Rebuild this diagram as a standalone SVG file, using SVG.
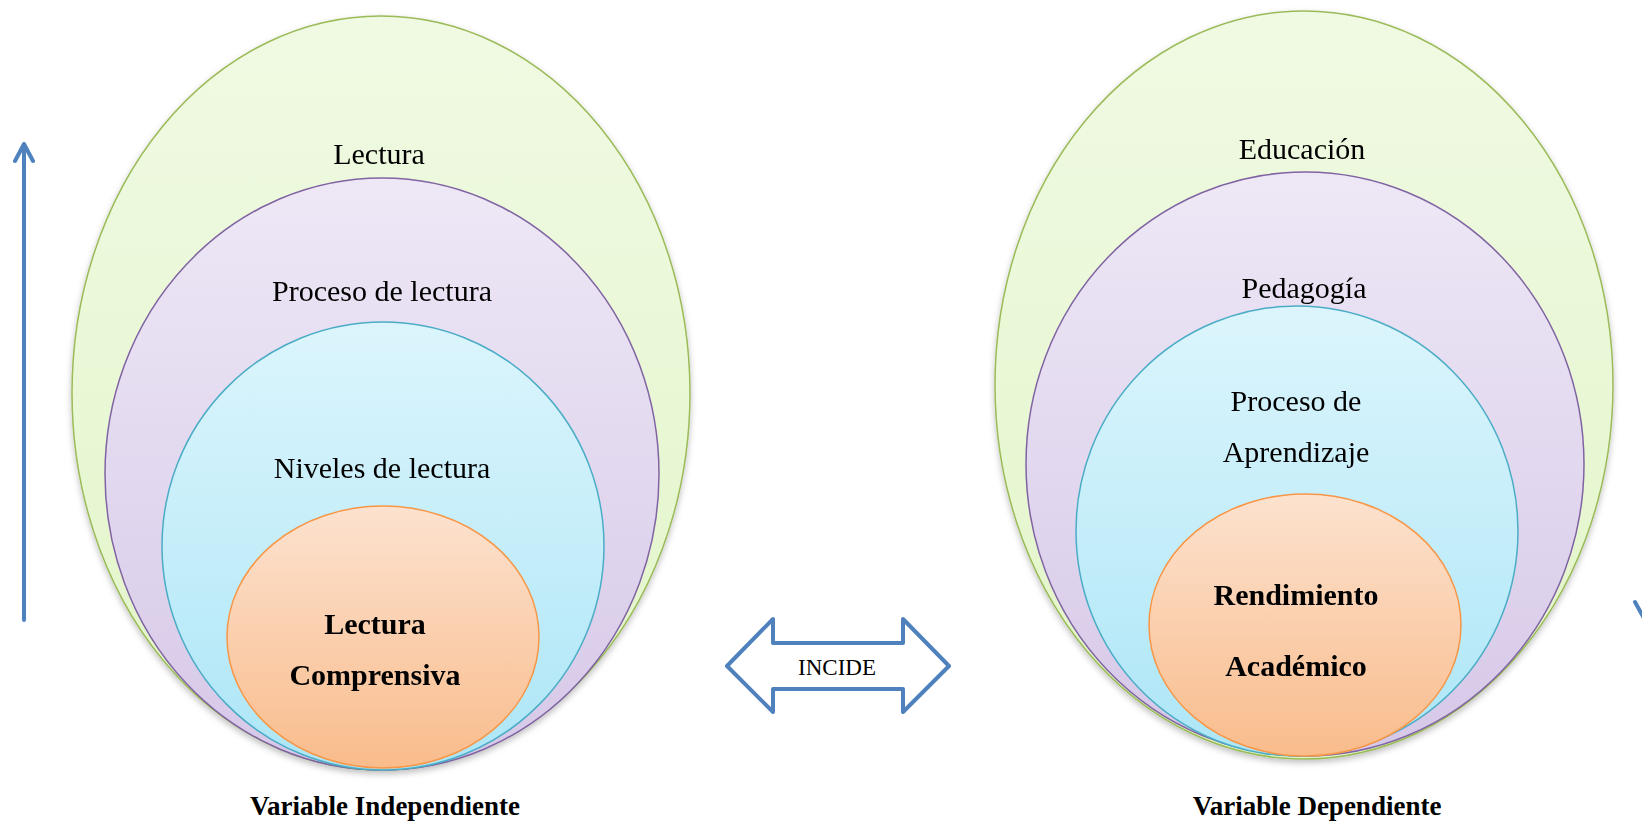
<svg xmlns="http://www.w3.org/2000/svg" width="1642" height="822" viewBox="0 0 1642 822">
<defs>
<linearGradient id="gGreen" x1="0" y1="0" x2="0" y2="1"><stop offset="0" stop-color="#F0FAE3"/><stop offset="1" stop-color="#E2F5C8"/></linearGradient>
<linearGradient id="gPurple" x1="0" y1="0" x2="0" y2="1"><stop offset="0" stop-color="#EEE8F6"/><stop offset="1" stop-color="#D6C8E8"/></linearGradient>
<linearGradient id="gCyan" x1="0" y1="0" x2="0" y2="1"><stop offset="0" stop-color="#DCF5FC"/><stop offset="1" stop-color="#ADE6F7"/></linearGradient>
<linearGradient id="gOrange" x1="0" y1="0" x2="0" y2="1"><stop offset="0" stop-color="#FCE2CF"/><stop offset="1" stop-color="#F9BC8C"/></linearGradient>
<filter id="sh" x="-10%" y="-10%" width="120%" height="125%"><feDropShadow dx="0" dy="3" stdDeviation="3" flood-color="#000" flood-opacity="0.25"/></filter>
</defs>
<style>
.green{fill:url(#gGreen);stroke:#9BBB59;stroke-width:1.5}
.purple{fill:url(#gPurple);stroke:#8064A2;stroke-width:1.5}
.cyan{fill:url(#gCyan);stroke:#4BACC6;stroke-width:1.5}
.orange{fill:url(#gOrange);stroke:#F79646;stroke-width:1.5}
.lbl{font-family:"Liberation Serif","Times New Roman",serif;font-size:30px;fill:#000;text-anchor:middle}
.bld{font-family:"Liberation Serif","Times New Roman",serif;font-size:30px;font-weight:bold;fill:#000;text-anchor:middle}
.cap{font-family:"Liberation Serif","Times New Roman",serif;font-size:27px;font-weight:bold;fill:#000;text-anchor:middle}
.arrow{fill:none;stroke:#4F81BD;stroke-width:4;stroke-linecap:round;stroke-linejoin:round}
</style>
<rect width="1642" height="822" fill="#FFFFFF"/>

<g id="left-diagram" filter="url(#sh)">
<g id="lectura"><ellipse class="green" cx="381" cy="393" rx="309" ry="377"/><text class="lbl" x="379" y="164">Lectura</text></g>
<g id="proceso-lectura"><ellipse class="purple" cx="382" cy="474" rx="277" ry="296"/><text class="lbl" x="382" y="301">Proceso de lectura</text></g>
<g id="niveles-lectura"><ellipse class="cyan" cx="383" cy="546" rx="221" ry="224"/><text class="lbl" x="382" y="478">Niveles de lectura</text></g>
<g id="lectura-comprensiva"><ellipse class="orange" cx="383" cy="637" rx="156" ry="131"/><text class="bld" x="375" y="634">Lectura</text><text class="bld" x="375" y="685">Comprensiva</text></g>
</g>
<text id="label-vi" class="cap" x="385" y="815">Variable Independiente</text>

<g id="right-diagram" filter="url(#sh)">
<g id="educacion"><ellipse class="green" cx="1304" cy="385" rx="309" ry="374"/><text class="lbl" x="1302" y="159">Educación</text></g>
<g id="pedagogia"><ellipse class="purple" cx="1305" cy="464" rx="279" ry="292"/><text class="lbl" x="1304" y="298">Pedagogía</text></g>
<g id="proceso-aprendizaje"><ellipse class="cyan" cx="1297" cy="531" rx="221" ry="225"/><text class="lbl" x="1296" y="411">Proceso de</text><text class="lbl" x="1296" y="462">Aprendizaje</text></g>
<g id="rendimiento"><ellipse class="orange" cx="1305" cy="625" rx="156" ry="131"/><text class="bld" x="1296" y="605">Rendimiento</text><text class="bld" x="1296" y="676">Académico</text></g>
</g>
<text id="label-vd" class="cap" x="1317" y="815">Variable Dependiente</text>

<g id="incide">
<path class="arrow" d="M727,666 L773,619 L773,643 L903,643 L903,619 L949,666 L903,712 L903,689 L773,689 L773,712 Z"/>
<text x="837" y="675" font-family="Liberation Serif, Times New Roman, serif" font-size="23" text-anchor="middle" fill="#000">INCIDE</text>
</g>

<g id="connectors">
<path class="arrow" d="M24,620 L24,144 M15,161 L24,144 L33,161"/>
<path class="arrow" d="M1635,602 L1645,620"/>
</g>
</svg>
